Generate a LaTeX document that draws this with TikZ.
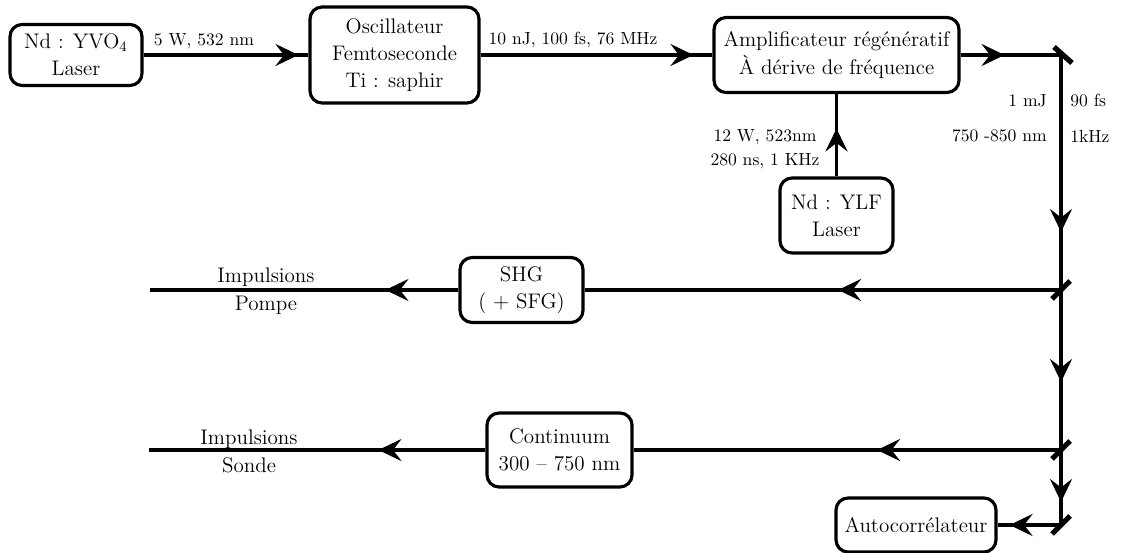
\documentclass[tikz,border=0pt]{standalone}
\usetikzlibrary{arrows.meta,decorations.markings}

\tikzset{
  bloc/.style={draw, rounded corners=0.24cm, line width=1.8pt, align=center, inner sep=0pt,
    font=\fontsize{12}{15.5}\selectfont},
  faisceau/.style={line width=1.9pt},
  pointe/.style={decoration={markings,
      mark=at position #1 with {\arrow{Stealth[length=0.46cm,width=0.44cm,inset=0.17cm]}}},
    postaction={decorate}},
  miroir/.style={line width=3pt},
  info/.style={font=\fontsize{10}{13.5}\selectfont, inner sep=0pt, align=center},
  sortie/.style={font=\fontsize{12}{16}\selectfont, inner sep=0pt, align=center},
}

\begin{document}
\begin{tikzpicture}[x=0.02cm,y=-0.02cm]
  \useasboundingbox (0,0) rectangle (1121,553);

  % boites
  \node[bloc, minimum width=2.64cm, minimum height=1.22cm] (yvo) at (76,55) {Nd : YVO\textsubscript{4}\\Laser};
  \node[bloc, minimum width=3.38cm, minimum height=1.92cm] (osc) at (394.5,55) {Oscillateur\\Femtoseconde\\Ti : saphir};
  \node[bloc, minimum width=4.9cm, minimum height=1.5cm] (ampli) at (836.5,55) {Amplificateur régénératif\\À dérive de fréquence};
  \node[bloc, minimum width=2.26cm, minimum height=1.5cm] (ylf) at (836.5,215.5) {Nd : YLF\\Laser};
  \node[bloc, minimum width=2.46cm, minimum height=1.3cm] (shg) at (521.5,290) {SHG\\( + SFG)};
  \node[bloc, minimum width=2.9cm, minimum height=1.48cm] (cont) at (559.5,450) {Continuum\\300 -- 750 nm};
  \node[bloc, minimum width=3.2cm, minimum height=1.08cm] (auto) at (916,525) {Autocorrélateur};

  % miroirs et sorties
  \coordinate (m1) at (1061,55);
  \coordinate (m2) at (1061,290);
  \coordinate (m3) at (1061,450);
  \coordinate (m4) at (1061,525);
  \coordinate (pompe) at (150,290);
  \coordinate (sonde) at (149,450);

  % faisceaux
  \draw[faisceau, pointe=-0.2cm] (yvo) -- (osc);
  \draw[faisceau, pointe=-0.38cm] (osc) -- (ampli);
  \draw[faisceau, pointe=0.96cm] (ylf) -- (ampli);
  \draw[faisceau, pointe=0.88cm] (ampli) -- (m1);
  \draw[faisceau, pointe=-1.16cm] (m1) -- (m2);
  \draw[faisceau, pointe=1.84cm] (m2) -- (m3);
  \draw[faisceau, pointe=1.04cm] (m3) -- (m4);
  \draw[faisceau, pointe=4.46cm] (m2) -- (shg);
  \draw[faisceau, pointe=1.46cm] (shg) -- (pompe);
  \draw[faisceau, pointe=3.68cm] (m3) -- (cont);
  \draw[faisceau, pointe=2.14cm] (cont) -- (sonde);
  \draw[faisceau, pointe=-0.24cm] (m4) -- (auto);

  \draw[miroir] ([shift={(-7,-8)}]m1) -- ([shift={(11,8)}]m1);
  \draw[miroir] ([shift={(-9,9)}]m2) -- ([shift={(9,-9)}]m2);
  \draw[miroir] ([shift={(-9,9)}]m3) -- ([shift={(9,-9)}]m3);
  \draw[miroir] ([shift={(-9,9)}]m4) -- ([shift={(9,-9)}]m4);

  % textes
  \node[info] (p1) at (204,41) {5 W, 532 nm};
  \node[info] (p2) at (573,40) {10 nJ, 100 fs, 76 MHz};
  \node[info] (p3) at (765,149) {12 W, 523nm\\280 ns, 1 KHz};
  \node[info, anchor=east] (e1) at (1047,101) {1 mJ};
  \node[info, anchor=east] (e2) at (1047,136) {750 -850 nm};
  \node[info, anchor=west] (d1) at (1070,101) {90 fs};
  \node[info, anchor=west] (d2) at (1070,136) {1kHz};
  \node[sortie] (pompetxt) at (266,291) {Impulsions\\Pompe};
  \node[sortie] (sondetxt) at (249,451) {Impulsions\\Sonde};
\end{tikzpicture}
\end{document}
